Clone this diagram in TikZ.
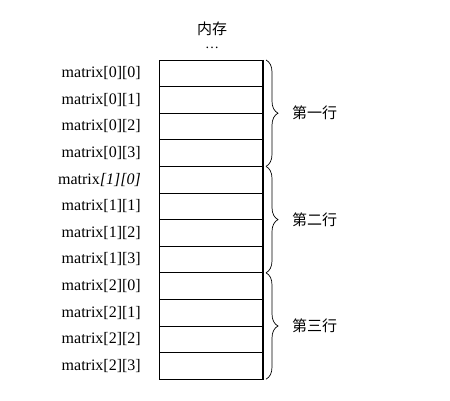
\documentclass[tikz,border=0pt]{standalone}
\usepackage{fontspec}
\setmainfont{Liberation Serif}
\newfontfamily\cjk{Noto Sans CJK SC}
\usetikzlibrary{decorations.pathreplacing}
\tikzset{
  cell/.style={draw, line width=0.8pt, minimum width=104pt, minimum height=26.6pt, inner sep=0pt, outer sep=0pt},
  lab/.style={anchor=east, inner sep=0pt, font=\fontsize{16}{16}\selectfont},
  grp/.style={anchor=west, inner sep=0pt, font=\cjk\fontsize{15}{15}\selectfont},
  brc/.style={decorate, decoration={brace, amplitude=12pt}, line width=0.7pt}
}
\begin{document}
\begin{tikzpicture}[x=1pt,y=-1pt]
\useasboundingbox (0,0) rectangle (450,401);
\foreach \i/\t in {0/{[0][0]},1/{[0][1]},2/{[0][2]},3/{[0][3]},4/{\textit{[1][0]}},5/{[1][1]},6/{[1][2]},7/{[1][3]},8/{[2][0]},9/{[2][1]},10/{[2][2]},11/{[2][3]}}{
  \node[cell] (c\i) at (211, {60+13.3+26.6*\i}) {};
  \node[lab] (l\i) at (141, {60+13.3+26.6*\i}) {matrix\t};
}
\draw[line width=1.4pt] (c0.north east) -- (c11.south east);
\node[font=\cjk\fontsize{15}{15}\selectfont, inner sep=0pt] (mem) at (212,29) {内存};
\node[inner sep=0pt, font=\fontsize{14}{14}\selectfont] (dots) at (212,48) {\dots};
\draw[brc] ([xshift=3pt]c0.north east) -- ([xshift=3pt]c3.south east) coordinate[midway, xshift=16pt] (b1);
\draw[brc] ([xshift=3pt]c4.north east) -- ([xshift=3pt]c7.south east) coordinate[midway, xshift=16pt] (b2);
\draw[brc] ([xshift=3pt]c8.north east) -- ([xshift=3pt]c11.south east) coordinate[midway, xshift=16pt] (b3);
\node[grp] (g1) at ([xshift=10pt]b1) {第一行};
\node[grp] (g2) at ([xshift=10pt]b2) {第二行};
\node[grp] (g3) at ([xshift=10pt]b3) {第三行};
\end{tikzpicture}
\end{document}
